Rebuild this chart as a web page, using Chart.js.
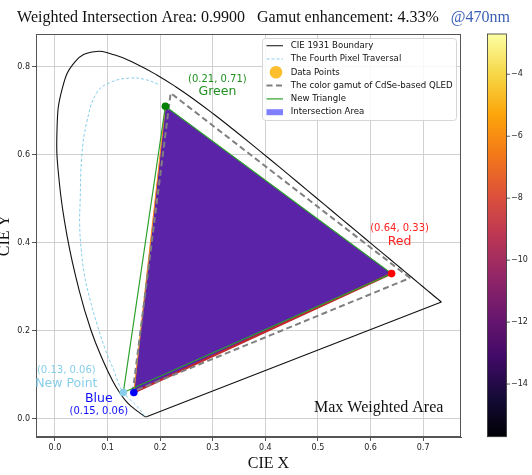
<!DOCTYPE html>
<html>
<head>
<meta charset="utf-8">
<script src="https://cdn.jsdelivr.net/npm/chart.js@4.4.0/dist/chart.umd.min.js"></script>
<style>
body{margin:0;background:#fff;}
#wrap{width:532px;height:475px;position:relative;}
</style>
</head>
<body>
<div id="wrap"><canvas id="cie"></canvas></div>
<script>
// CIE 1931 spectral locus (380 -> 700 nm)
const locusX = [0.1741,0.1733,0.1714,0.1689,0.1644,0.1566,0.1440,0.1355,0.1241,0.1096,0.0913,0.0687,0.0454,0.0235,0.0082,0.0039,0.0139,0.0389,0.0743,0.1142,0.1547,0.1929,0.2296,0.2658,0.3016,0.3373,0.3731,0.4087,0.4441,0.4788,0.5125,0.5448,0.5752,0.6029,0.6270,0.6482,0.6658,0.6915,0.7079,0.7190,0.7260,0.7300,0.7334,0.7347];
const locusY = [0.0050,0.0048,0.0051,0.0069,0.0109,0.0177,0.0297,0.0399,0.0578,0.0868,0.1327,0.2007,0.2950,0.4127,0.5384,0.6548,0.7502,0.8120,0.8338,0.8262,0.8059,0.7816,0.7543,0.7243,0.6923,0.6589,0.6245,0.5896,0.5547,0.5202,0.4866,0.4544,0.4242,0.3965,0.3725,0.3514,0.3340,0.3083,0.2920,0.2809,0.2740,0.2700,0.2666,0.2653];

// fourth pixel traversal
const travX = [0.171,0.158,0.143,0.127,0.112,0.095,0.080,0.067,0.056,0.050,0.047,0.048,0.051,0.060,0.079,0.105,0.143,0.174,0.200];
const travY = [0.006,0.026,0.044,0.065,0.110,0.160,0.215,0.270,0.327,0.384,0.441,0.497,0.596,0.671,0.740,0.764,0.774,0.770,0.758];

const pointNames = ["Green","Red","Blue","New Point"];
const pointX = [0.21,0.64,0.15,0.13];
const pointY = [0.71,0.33,0.06,0.06];

const qledX = [0.675,0.22,0.148];
const qledY = [0.32,0.74,0.062];

const xTicks = [0,0.1,0.2,0.3,0.4,0.5,0.6,0.7];
const yTicks = [0,0.2,0.4,0.6,0.8];
const cbarTicks = [-4,-6,-8,-10,-12,-14];
const cbarMin = -15.7, cbarMax = -2.7;

const weightedArea = 0.99;
const gamutGain = 4.33;
const wavelength = 470;

// helpers
const xy = (xs, ys) => xs.map((x, i) => ({x: x, y: ys[i]}));
const pt = i => ({x: pointX[i], y: pointY[i]});
const closed = a => a.concat([a[0]]);

const pointColors = ["#008000","#ff0000","#0000ff","#87ceeb"];
const labelColors = ["#1f8f1f","#ff1f1f","#1010ff","#87ceeb"];
const labelOffsets = [[52,-27],[8,-45],[-35,19],[-57,-22]];   // coords label; name sits 13px lower (blue: above)

const inferno = ["#000004","#160b39","#420a68","#6a176e","#932667","#bc3754","#dd513a","#f37819","#fca50a","#f6d746","#fcffa4"];

Chart.defaults.font.family = "DejaVu Sans";
Chart.defaults.color = "#222";

const decor = {
    id: "decor",
    afterDatasetsDraw(chart) {
        const {ctx, chartArea: a, scales: {x, y}} = chart;
        ctx.save();

        // top / right spines
        ctx.strokeStyle = "#555";
        ctx.lineWidth = 1;
        ctx.strokeRect(a.left + 0.5, a.top + 0.5, a.right - a.left - 1, a.bottom - a.top - 1);

        // point labels
        ctx.textAlign = "center";
        ctx.textBaseline = "middle";
        pointNames.forEach((name, i) => {
            const px = x.getPixelForValue(pointX[i]);
            const py = y.getPixelForValue(pointY[i]);
            const [dx, dy] = labelOffsets[i];
            const coords = "(" + pointX[i].toFixed(2) + ", " + pointY[i].toFixed(2) + ")";
            ctx.fillStyle = labelColors[i];
            ctx.font = "10px 'DejaVu Sans'";
            ctx.fillText(coords, px + dx, py + dy);
            ctx.font = "12.5px 'DejaVu Sans'";
            const nameDy = name === "Blue" ? dy - 12.5 : dy + 12.8;
            ctx.fillText(name, px + dx, py + nameDy);
        });

        ctx.fillStyle = "#111";
        ctx.font = "16px 'Liberation Serif'";
        ctx.fillText("Max Weighted Area", 378.7, 408);

        // legend
        const lx = 262.5, ly = 38.5, lw = 194, lh = 82;
        ctx.fillStyle = "rgba(255,255,255,0.85)";
        ctx.strokeStyle = "#d6d6d6";
        ctx.lineWidth = 1;
        ctx.beginPath();
        ctx.roundRect(lx, ly, lw, lh, 3);
        ctx.fill();
        ctx.stroke();

        const items = [
            {text: "CIE 1931 Boundary", kind: "line", color: "#333", width: 1.2, dash: []},
            {text: "The Fourth Pixel Traversal", kind: "line", color: "#87ceeb", width: 1, dash: [3, 2]},
            {text: "Data Points", kind: "dot", color: "#fdbf2d"},
            {text: "The color gamut of CdSe-based QLED", kind: "line", color: "#808080", width: 2, dash: [6, 3.5]},
            {text: "New Triangle", kind: "line", color: "#2ca02c", width: 1.2, dash: []},
            {text: "Intersection Area", kind: "rect", color: "#7f7fff"}
        ];
        ctx.textAlign = "left";
        ctx.font = "8.6px 'DejaVu Sans'";
        items.forEach((it, i) => {
            const cy = 45.7 + i * 13.3;
            if (it.kind === "line") {
                ctx.strokeStyle = it.color;
                ctx.lineWidth = it.width;
                ctx.setLineDash(it.dash);
                ctx.beginPath();
                ctx.moveTo(266.5, cy);
                ctx.lineTo(283, cy);
                ctx.stroke();
                ctx.setLineDash([]);
            } else if (it.kind === "dot") {
                ctx.fillStyle = it.color;
                ctx.beginPath();
                ctx.arc(276, cy, 6.3, 0, Math.PI * 2);
                ctx.fill();
            } else {
                ctx.fillStyle = it.color;
                ctx.fillRect(266.5, cy - 3, 16.5, 6);
            }
            ctx.fillStyle = "#111";
            ctx.fillText(it.text, 290.7, cy);
        });
        ctx.restore();
    },
    afterDraw(chart) {
        const {ctx, chartArea: a} = chart;
        ctx.save();

        // title
        const part1 = "Weighted Intersection Area: " + weightedArea.toFixed(4) + "   Gamut enhancement: " + gamutGain.toFixed(2) + "%";
        const part2 = "@" + wavelength + "nm";
        ctx.font = "16px 'Liberation Serif'";
        ctx.textBaseline = "alphabetic";
        ctx.textAlign = "left";
        const w1 = ctx.measureText(part1).width;
        const w2 = ctx.measureText(part2).width;
        const gap = 12;
        const startX = 263.5 - (w1 + gap + w2) / 2;
        ctx.fillStyle = "#111";
        ctx.fillText(part1, startX, 21.5);
        ctx.fillStyle = "#3a5fb4";
        ctx.fillText(part2, startX + w1 + gap, 21.5);

        // axis titles
        ctx.fillStyle = "#111";
        ctx.font = "16px 'Liberation Serif'";
        ctx.textAlign = "center";
        ctx.textBaseline = "middle";
        ctx.fillText("CIE X", (a.left + a.right) / 2 + 20, 463.5);
        ctx.save();
        ctx.translate(5, (a.top + a.bottom) / 2);
        ctx.rotate(-Math.PI / 2);
        ctx.fillText("CIE Y", 0, 0);
        ctx.restore();

        // colorbar
        const cx0 = 487.5, cx1 = 506.5, cy0 = 34, cy1 = 436.7;
        const grad = ctx.createLinearGradient(0, cy1, 0, cy0);
        inferno.forEach((c, i) => grad.addColorStop(i / (inferno.length - 1), c));
        ctx.fillStyle = grad;
        ctx.fillRect(cx0, cy0, cx1 - cx0, cy1 - cy0);
        ctx.strokeStyle = "#333";
        ctx.lineWidth = 0.8;
        ctx.strokeRect(cx0, cy0, cx1 - cx0, cy1 - cy0);
        ctx.font = "8px 'DejaVu Sans'";
        ctx.textAlign = "left";
        ctx.fillStyle = "#222";
        cbarTicks.forEach(v => {
            const ty = cy1 - (v - cbarMin) / (cbarMax - cbarMin) * (cy1 - cy0);
            ctx.beginPath();
            ctx.moveTo(cx1, ty);
            ctx.lineTo(cx1 + 3.5, ty);
            ctx.stroke();
            ctx.fillText("\u2212" + Math.abs(v), cx1 + 4.5, ty);
        });
        ctx.restore();
    }
};

const G = pt(0), R = pt(1), B = pt(2), N = pt(3);
const locus = xy(locusX, locusY);

new Chart(document.getElementById("cie"), {
    type: "scatter",
    data: {
        datasets: [
            {
                label: "Intersection Area",
                data: closed([G, R, B]),
                showLine: true,
                fill: "shape",
                backgroundColor: "#5a23a8",
                borderWidth: 0,
                pointRadius: 0,
                order: 10
            },
            {
                label: "edge blue-red",
                data: [B, R],
                showLine: true,
                borderColor: "#c0282d",
                borderWidth: 2.2,
                pointRadius: 0,
                order: 9
            },
            {
                label: "edge blue-green",
                data: [B, G],
                showLine: true,
                borderColor: "#ff8c1a",
                borderWidth: 1,
                pointRadius: 0,
                order: 9
            },
            {
                label: "The color gamut of CdSe-based QLED",
                data: closed(xy(qledX, qledY)),
                showLine: true,
                borderColor: "#808080",
                borderWidth: 2,
                borderDash: [6, 3.5],
                pointRadius: 0,
                order: 8
            },
            {
                label: "New Triangle",
                data: closed([N, G, R]),
                showLine: true,
                borderColor: "#2ca02c",
                borderWidth: 1.2,
                pointRadius: 0,
                order: 7
            },
            {
                label: "CIE 1931 Boundary",
                data: locus,
                showLine: true,
                borderColor: "#111",
                borderWidth: 1.1,
                tension: 0.45,
                pointRadius: 0,
                order: 6
            },
            {
                label: "purple line",
                data: [locus[locus.length - 1], locus[0]],
                showLine: true,
                borderColor: "#111",
                borderWidth: 1.1,
                pointRadius: 0,
                order: 6
            },
            {
                label: "The Fourth Pixel Traversal",
                data: xy(travX, travY),
                showLine: true,
                borderColor: "#87ceeb",
                borderWidth: 1,
                borderDash: [3, 2],
                tension: 0.4,
                pointRadius: 0,
                order: 5
            },
            {
                label: "Data Points",
                data: xy(pointX, pointY),
                showLine: false,
                pointRadius: 3.8,
                pointBorderWidth: 0,
                pointBackgroundColor: pointColors,
                order: 1
            }
        ]
    },
    options: {
        responsive: true,
        maintainAspectRatio: false,
        animation: false,
        layout: {padding: {left: 0, right: 71, top: 34, bottom: 0}},
        plugins: {legend: {display: false}, tooltip: {enabled: false}},
        scales: {
            x: {
                min: -0.036,
                max: 0.772,
                afterFit: s => { s.height = 38; },
                afterBuildTicks: s => { s.ticks = xTicks.map(v => ({value: v})); },
                ticks: {callback: v => v.toFixed(1), font: {size: 8}, padding: 2, maxRotation: 0},
                grid: {color: "#d0d0d0", tickColor: "#555", tickLength: 4},
                border: {color: "#555"}
            },
            y: {
                min: -0.041,
                max: 0.874,
                afterFit: s => { s.width = 36; },
                afterBuildTicks: s => { s.ticks = yTicks.map(v => ({value: v})); },
                ticks: {callback: v => v.toFixed(1), font: {size: 8}, padding: 2},
                grid: {color: "#d0d0d0", tickColor: "#555", tickLength: 4},
                border: {color: "#555"}
            }
        }
    },
    plugins: [decor]
});
</script>
</body>
</html>
